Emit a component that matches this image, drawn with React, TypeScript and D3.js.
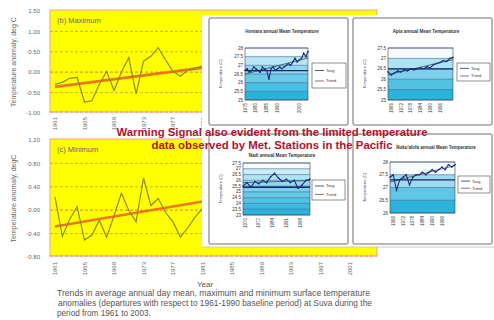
import React from 'react';
import * as d3 from 'd3';

// main Suva anomaly charts
const yearTicks = [1961, 1965, 1969, 1973, 1977, 1981, 1985, 1989, 1993, 1997, 2001];
const maxYears = [1961, 1962, 1963, 1964, 1965, 1966, 1967, 1968, 1969, 1970, 1971, 1972, 1973, 1974, 1975, 1976, 1977, 1978, 1979, 1980, 1981];
const maxValues = [-0.3, -0.25, -0.15, -0.13, -0.73, -0.7, -0.3, 0.02, -0.45, 0.0, 0.36, -0.53, 0.27, 0.39, 0.6, 0.3, 0.02, -0.1, 0.05, 0.1, 0.15];
const minYears = [1961, 1962, 1963, 1964, 1965, 1966, 1967, 1968, 1969, 1970, 1971, 1972, 1973, 1974, 1975, 1976, 1977, 1978, 1979, 1980, 1981];
const minValues = [0.23, -0.45, -0.15, 0.06, -0.51, -0.43, -0.17, -0.46, -0.1, 0.29, 0.0, -0.2, 0.55, 0.08, 0.2, -0.04, -0.2, -0.46, -0.3, -0.12, 0.03];
const maxTicks = [1.5, 1.0, 0.5, 0.0, -0.5, -1.0];
const minTicks = [1.2, 0.8, 0.4, 0.0, -0.4, -0.8];
const trendYears = [1961, 2005];
const maxTrend = [-0.36, 0.67];
const minTrend = [-0.28, 0.66];

// small station charts
const tlYears = [1975, 1976, 1977, 1978, 1979, 1980, 1981, 1982, 1983, 1984, 1985, 1986, 1987, 1988, 1989, 1990, 1991, 1992, 1993, 1994, 1995, 1996, 1997, 1998, 1999, 2000, 2001, 2002, 2003, 2004];
const tlValues = [26.7, 26.8, 26.6, 26.7, 26.9, 26.8, 26.7, 26.6, 26.9, 26.8, 26.7, 26.2, 26.8, 26.9, 26.7, 26.8, 26.9, 26.8, 26.9, 27.0, 27.1, 27.0, 27.2, 27.4, 27.2, 27.3, 27.4, 27.7, 27.5, 27.8];
const tlTicks = [28, 27.5, 27, 26.5, 26, 25.5, 25];
const tlXTicks = [1975, 1980, 1985, 1990, 2000];

const trYears = [1964, 1966, 1968, 1970, 1972, 1974, 1976, 1978, 1980, 1982, 1984, 1986, 1988, 1990, 1992, 1994, 1996, 1998, 2000, 2002, 2004];
const trValues = [26.35, 26.2, 26.3, 26.4, 26.35, 26.45, 26.4, 26.5, 26.45, 26.5, 26.55, 26.5, 26.6, 26.55, 26.7, 26.75, 26.8, 26.9, 26.85, 27.0, 27.05];
const trTicks = [27.5, 27, 26.5, 26, 25.5, 25];
const trXTicks = [1966, 1972, 1978, 1984, 1990, 1996];

const blYears = [1969, 1971, 1973, 1975, 1977, 1979, 1981, 1983, 1985, 1987, 1989, 1991, 1993, 1995, 1997, 1999, 2001, 2003];
const blValues = [25.5, 25.8, 25.4, 25.9, 25.7, 26.0, 25.8, 26.3, 26.6, 26.2, 25.9, 26.1, 25.8, 26.0, 25.3, 25.6, 26.0, 26.1];
const blTicks = [27.5, 27, 26.5, 26, 25.5, 25, 24.5, 24, 23.5, 23];
const blXTicks = [1970, 1977, 1984, 1991, 1998];

const brYears = [1964, 1966, 1968, 1970, 1972, 1974, 1976, 1978, 1980, 1982, 1984, 1986, 1988, 1990, 1992, 1994, 1996, 1998, 2000, 2002, 2004];
const brValues = [27.4, 27.5, 26.9, 27.3, 27.4, 27.5, 27.1, 27.4, 27.5, 27.5, 27.6, 27.5, 27.6, 27.7, 27.6, 27.7, 27.8, 27.7, 27.9, 27.8, 27.9];
const brTicks = [28, 27.5, 27, 26.5, 26];
const brXTicks = [1966, 1972, 1978, 1984, 1990, 1996];

const FONT = '"Liberation Sans", Arial, sans-serif';

function MainChart({ top, bottom, ticks, years, values, trend, label, yTitle, xLabelY }: any) {
  const x = d3.scaleLinear().domain([1961, 2001]).range([55, 350]);
  const y = d3.scaleLinear().domain([ticks[0], ticks[ticks.length - 1]]).range([top, bottom]);
  const line = d3.line<number>().x((_, i) => x(years[i])).y((d) => y(d));
  const tline = d3.line<number>().x((_, i) => x(trendYears[i])).y((d) => y(d));
  const mid = (top + bottom) / 2;
  return (
    <g>
      <rect x={50} y={top - 1} width={327} height={bottom - top} fill="#ffff00" stroke="#f4a0a0" strokeWidth={1} />
      {ticks.slice(1, -1).map((t: number) => (
        <line key={t} x1={50} x2={377} y1={y(t)} y2={y(t)}
          stroke={t === 0 ? '#e59a2a' : '#a8a838'} strokeWidth={t === 0 ? 1.2 : 0.8} strokeDasharray="3,2" />
      ))}
      <line x1={50} x2={377} y1={bottom - 1} y2={bottom - 1} stroke="#d8806a" strokeWidth={0.8} strokeDasharray="3,2" />
      {ticks.map((t: number) => (
        <text key={t} x={40} y={y(t)} dy="0.35em" textAnchor="end" fontSize={6} fill="#666" fontFamily={FONT}>
          {t.toFixed(2)}
        </text>
      ))}
      <text transform={`translate(16,${mid}) rotate(-90)`} textAnchor="middle" fontSize={7} fill="#666" fontFamily={FONT}>
        {yTitle}
      </text>
      <text x={57} y={top + 12} fontSize={7.5} fill="#666" fontFamily={FONT}>{label}</text>
      <path d={tline(trend) || ''} fill="none" stroke="#e8601c" strokeWidth={2.6} strokeOpacity={0.85} />
      <path d={line(values) || ''} fill="none" stroke="#8c8c1e" strokeWidth={1.2} />
      {yearTicks.map((t) => (
        <text key={t} transform={`translate(${x(t)},${xLabelY}) rotate(-90)`} dy="0.35em" textAnchor="end"
          fontSize={6} fill="#666" fontFamily={FONT}>
          {t}
        </text>
      ))}
    </g>
  );
}

function MiniChart({ box, px, py, legend, title, titleX, titleY, years, values, yTicks, xTicks, xDomain, mean }: any) {
  const x = d3.scaleLinear().domain(xDomain).range(px);
  const y = d3.scaleLinear().domain([yTicks[0], yTicks[yTicks.length - 1]]).range(py);
  const n = yTicks.length - 1;
  const band = d3.interpolateRgb('#f6fcfe', '#2ab4dc');
  const line = d3.line<number>().x((_, i) => x(years[i])).y((d) => y(d));
  const mx = d3.mean(years) as number;
  const my = d3.mean(values) as number;
  const slope = d3.sum(years, (yr: number, i: number) => (yr - mx) * (values[i] - my)) /
    d3.sum(years, (yr: number) => (yr - mx) * (yr - mx));
  const x0 = years[0];
  const x1 = years[years.length - 1];
  return (
    <g fontFamily={FONT}>
      <rect x={box[0]} y={box[1]} width={box[2]} height={box[3]} rx={2} fill="#fff" stroke="#a0a0a0" strokeWidth={1.5} />
      <text x={titleX} y={titleY} textAnchor="middle" fontSize={4.5} fontWeight="bold" fill="#333">{title}</text>
      {yTicks.slice(0, -1).map((t: number, i: number) => (
        <rect key={t} x={px[0]} y={y(t)} width={px[1] - px[0]} height={y(yTicks[i + 1]) - y(t)}
          fill={band(Math.pow(i / (n - 1), 0.75))} />
      ))}
      {yTicks.map((t: number) => (
        <g key={t}>
          <line x1={px[0]} x2={px[1]} y1={y(t)} y2={y(t)} stroke="#2a4a8a" strokeWidth={0.5} />
          <text x={px[0] - 2} y={y(t)} dy="0.35em" textAnchor="end" fontSize={4.5} fill="#333">{t}</text>
        </g>
      ))}
      <line x1={px[0]} x2={px[1]} y1={y(mean)} y2={y(mean)} stroke="#14256a" strokeWidth={1.3} />
      <rect x={px[0]} y={py[0]} width={px[1] - px[0]} height={py[1] - py[0]} fill="none" stroke="#444" strokeWidth={0.6} />
      <line x1={x(x0)} x2={x(x1)} y1={y(my + slope * (x0 - mx))} y2={y(my + slope * (x1 - mx))} stroke="#222" strokeWidth={0.6} />
      <path d={line(values) || ''} fill="none" stroke="#1c2f80" strokeWidth={1.1} />
      {values.map((v: number, i: number) => (
        <circle key={i} cx={x(years[i])} cy={y(v)} r={0.8} fill="#1c2f80" />
      ))}
      <text transform={`translate(${box[0] + 13},${(py[0] + py[1]) / 2}) rotate(-90)`} textAnchor="middle" fontSize={4} fill="#444">
        Temperature (C)
      </text>
      {xTicks.map((t: number) => (
        <text key={t} transform={`translate(${x(t)},${py[1] + 3}) rotate(-90)`} dy="0.35em" textAnchor="end" fontSize={4.5} fill="#333">
          {t}
        </text>
      ))}
      <rect x={legend[0]} y={legend[1]} width={legend[2]} height={legend[3]} fill="#fff" stroke="#444" strokeWidth={0.6} />
      <line x1={legend[0] + 3} x2={legend[0] + 12} y1={legend[1] + legend[3] * 0.3} y2={legend[1] + legend[3] * 0.3} stroke="#1c2f80" strokeWidth={0.8} />
      <text x={legend[0] + 14} y={legend[1] + legend[3] * 0.3} dy="0.35em" fontSize={4} fill="#333">Tavg</text>
      <line x1={legend[0] + 3} x2={legend[0] + 12} y1={legend[1] + legend[3] * 0.72} y2={legend[1] + legend[3] * 0.72} stroke="#222" strokeWidth={0.6} />
      <text x={legend[0] + 14} y={legend[1] + legend[3] * 0.72} dy="0.35em" fontSize={4} fill="#333">Trend</text>
    </g>
  );
}

export default function App() {
  return (
    <svg width={494} height={320} style={{ position: 'absolute', left: 0, top: 0, background: '#fff' }}>
      <rect width={494} height={320} fill="#fff" />
      <MainChart top={11} bottom={113} ticks={maxTicks} years={maxYears} values={maxValues} trend={maxTrend}
        label="(b) Maximum" yTitle="Temperature anomaly, deg C" xLabelY={117} />
      <MainChart top={140} bottom={257} ticks={minTicks} years={minYears} values={minValues} trend={minTrend}
        label="(c) Minimum" yTitle="Temperature anomaly, degC" xLabelY={262} />
      <text x={205} y={287} textAnchor="middle" fontSize={8} fill="#555" fontFamily={FONT}>Year</text>
      <g fontSize={8.2} fill="#555" fontFamily={FONT}>
        <text x={57} y={296} textLength={313} lengthAdjust="spacingAndGlyphs">Trends in average annual day mean, maximum and minimum surface temperature</text>
        <text x={58} y={306} textLength={314} lengthAdjust="spacingAndGlyphs">anomalies (departures with respect to 1961-1990 baseline period) at Suva during the</text>
        <text x={57} y={316}>period from 1961 to 2003.</text>
      </g>

      <rect x={202} y={15} width={292} height={232} fill="#fff" />
      <line x1={202} x2={494} y1={247} y2={247} stroke="#c8c8c8" strokeWidth={1} />
      <MiniChart box={[209, 18, 139, 107]} px={[245, 308]} py={[48, 100]} legend={[312, 63, 34, 25]}
        title="Honiara annual Mean Temperature" titleX={282} titleY={33} years={tlYears} values={tlValues}
        yTicks={tlTicks} xTicks={tlXTicks} xDomain={[1975, 2004]} mean={26.7} />
      <MiniChart box={[353, 18, 139, 107]} px={[388, 453]} py={[48, 100]} legend={[457, 63, 33, 18]}
        title="Apia annual Mean Temperature" titleX={426} titleY={33} years={trYears} values={trValues}
        yTicks={trTicks} xTicks={trXTicks} xDomain={[1964, 2004]} mean={26.5} />
      <MiniChart box={[209, 134, 139, 110]} px={[243, 310]} py={[163, 215]} legend={[312, 180, 33, 20]}
        title="Nadi annual Mean Temperature" titleX={282} titleY={157} years={blYears} values={blValues}
        yTicks={blTicks} xTicks={blXTicks} xDomain={[1969, 2003]} mean={25.4} />
      <MiniChart box={[353, 134, 139, 110]} px={[390, 455]} py={[162, 213]} legend={[458, 176, 32, 17]}
        title="Nuku'alofa annual Mean Temperature" titleX={436} titleY={149} years={brYears} values={brValues}
        yTicks={brTicks} xTicks={brXTicks} xDomain={[1964, 2004]} mean={27.3} />

      <g fill="#b0122e" fontWeight="bold" fontSize={11} fontFamily={FONT} textAnchor="middle">
        <text x={272} y={136} textLength={311} lengthAdjust="spacingAndGlyphs">
          Warming Signal also evident from the limited temperature
        </text>
        <text x={272} y={149} textLength={241} lengthAdjust="spacingAndGlyphs">
          data observed by Met. Stations in the Pacific
        </text>
      </g>
    </svg>
  );
}
